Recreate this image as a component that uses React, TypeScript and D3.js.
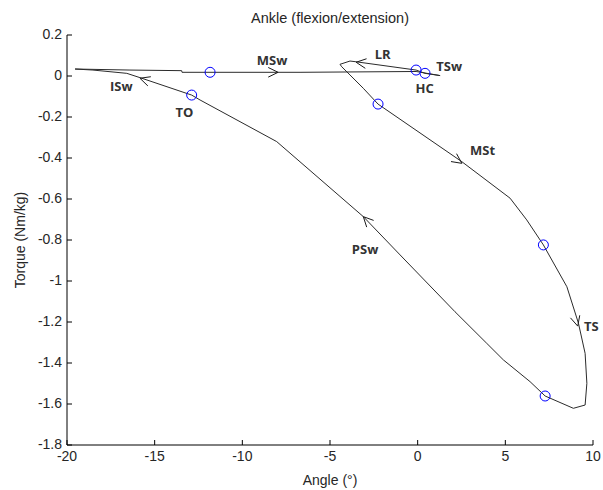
import React from "react";
import * as d3 from "d3";

const W = 603;
const H = 490;

// Angle (deg), Torque (Nm/kg) — gait loop, ordered along the cycle
const loopAngle = [
  -19.54, -16.41, -13.46, -13.44, -6.71, -0.09, 1.28, 0.42, -0.09, -3.57, -3.86, -4.43, -4.33,
  -3.86, -3.1, -2.26, 2.52, 5.27, 6.22, 7.17, 8.51, 9.17, 9.55, 9.65, 9.55, 8.88, 7.27, 6.41,
  4.89, 3.94, 2.13, -1.0, -3.1, -8.04, -12.41, -12.89, -15.84, -16.59, -18.52, -19.54,
];
const loopTorque = [
  0.034, 0.029, 0.026, 0.018, 0.018, 0.022, 0.002, 0.013, 0.029, 0.07, 0.073, 0.057, 0.045,
  0.005, -0.06, -0.137, -0.418, -0.596, -0.702, -0.824, -1.028, -1.206, -1.353, -1.499, -1.605,
  -1.621, -1.561, -1.491, -1.385, -1.304, -1.15, -0.873, -0.686, -0.32, -0.117, -0.093, -0.008,
  0.013, 0.029, 0.034,
];

// event markers
const markerAngle = [-11.84, -12.89, -0.09, 0.42, -2.26, 7.17, 7.27];
const markerTorque = [0.018, -0.093, 0.029, 0.013, -0.137, -0.824, -1.561];

// arrows: tip and a point "behind" gives direction
const arrowAngle = [-7.96, -3.51, -15.84, 2.52, 9.13, -3.1];
const arrowTorque = [0.018, 0.067, -0.011, -0.426, -1.22, -0.686];
const arrowFromAngle = [-9.0, -0.09, -12.89, -2.26, 8.51, -1.0];
const arrowFromTorque = [0.018, 0.029, -0.093, -0.137, -1.028, -0.873];

// phase labels
const phaseNames = ["MSw", "LR", "TSw", "HC", "ISw", "TO", "MSt", "TS", "PSw"];
const phaseAngle = [-8.3, -2.0, 1.8, 0.4, -16.9, -13.3, 3.7, 9.9, -3.0];
const phaseTorque = [0.08, 0.107, 0.047, -0.058, -0.05, -0.175, -0.36, -1.22, -0.845];

const xTicks = [-20, -15, -10, -5, 0, 5, 10];
const yTicks = [0.2, 0, -0.2, -0.4, -0.6, -0.8, -1, -1.2, -1.4, -1.6, -1.8];

const title = "Ankle (flexion/extension)";
const xLabel = "Angle (°)";
const yLabel = "Torque (Nm/kg)";

export default function App() {
  const x = d3.scaleLinear().domain([-20, 10]).range([67, 593]);
  const y = d3.scaleLinear().domain([-1.8, 0.2]).range([445, 35]);
  const pts: [number, number][] = loopAngle.map((a, i) => [a, loopTorque[i]]);
  const line = d3
    .line<[number, number]>()
    .x((d) => x(d[0]))
    .y((d) => y(d[1]));

  const tickFont = "'Liberation Sans', Arial, sans-serif";
  const textColor = "#262626";

  return (
    <svg
      width={W}
      height={H}
      style={{ position: "absolute", left: 0, top: 0, background: "#fff" }}
    >
      <rect width={W} height={H} fill="#fff" />
      {/* title */}
      <text
        x={(x(-20) + x(10)) / 2}
        y={23}
        textAnchor="middle"
        fontFamily={tickFont}
        fontSize={14.5}
        fill={textColor}
      >
        {title}
      </text>
      {/* axes */}
      <line x1={x(-20)} x2={x(10)} y1={y(-1.8)} y2={y(-1.8)} stroke="#000" strokeWidth={1} />
      <line x1={x(-20)} x2={x(-20)} y1={y(-1.8)} y2={y(0.2)} stroke="#000" strokeWidth={1} />
      {xTicks.map((t) => (
        <g key={"xt" + t}>
          <line x1={x(t)} x2={x(t)} y1={y(-1.8)} y2={y(-1.8) - 5} stroke="#000" />
          <text
            x={x(t)}
            y={y(-1.8) + 16}
            textAnchor="middle"
            fontFamily={tickFont}
            fontSize={14}
            fill={textColor}
          >
            {String(t)}
          </text>
        </g>
      ))}
      {yTicks.map((t) => (
        <g key={"yt" + t}>
          <line x1={x(-20)} x2={x(-20) + 5} y1={y(t)} y2={y(t)} stroke="#000" />
          <text
            x={x(-20) - 5}
            y={y(t) + 4}
            textAnchor="end"
            fontFamily={tickFont}
            fontSize={14}
            fill={textColor}
          >
            {String(+t.toFixed(1))}
          </text>
        </g>
      ))}
      <text
        x={(x(-20) + x(10)) / 2}
        y={485}
        textAnchor="middle"
        fontFamily={tickFont}
        fontSize={14}
        fill={textColor}
      >
        {xLabel}
      </text>
      <text
        transform={`translate(25,${(y(0.2) + y(-1.8)) / 2}) rotate(-90)`}
        textAnchor="middle"
        fontFamily={tickFont}
        fontSize={14}
        fill={textColor}
      >
        {yLabel}
      </text>
      {/* loop */}
      <path d={line(pts) || ""} fill="none" stroke="#2b2b2b" strokeWidth={1} />
      {/* arrows */}
      {arrowAngle.map((a, i) => {
        const tx = x(a);
        const ty = y(arrowTorque[i]);
        const fx = x(arrowFromAngle[i]);
        const fy = y(arrowFromTorque[i]);
        const ang = Math.atan2(ty - fy, tx - fx);
        const len = 11;
        const spread = (26 * Math.PI) / 180;
        const p1 = [tx - len * Math.cos(ang - spread), ty - len * Math.sin(ang - spread)];
        const p2 = [tx - len * Math.cos(ang + spread), ty - len * Math.sin(ang + spread)];
        return (
          <path
            key={"ar" + i}
            d={`M${p1[0]},${p1[1]}L${tx},${ty}L${p2[0]},${p2[1]}`}
            fill="none"
            stroke="#1a1a1a"
            strokeWidth={1}
          />
        );
      })}
      {/* markers */}
      {markerAngle.map((a, i) => (
        <circle
          key={"m" + i}
          cx={x(a)}
          cy={y(markerTorque[i])}
          r={5}
          fill="none"
          stroke="#0000ff"
          strokeWidth={1}
        />
      ))}
      {/* phase labels */}
      {phaseNames.map((n, i) => (
        <text
          key={"ph" + i}
          x={x(phaseAngle[i])}
          y={y(phaseTorque[i])}
          textAnchor="middle"
          dominantBaseline="central"
          fontFamily="'Open Sans', 'Liberation Sans', sans-serif"
          fontWeight="bold"
          fontSize={13}
          fill="#333"
        >
          {n}
        </text>
      ))}
    </svg>
  );
}
